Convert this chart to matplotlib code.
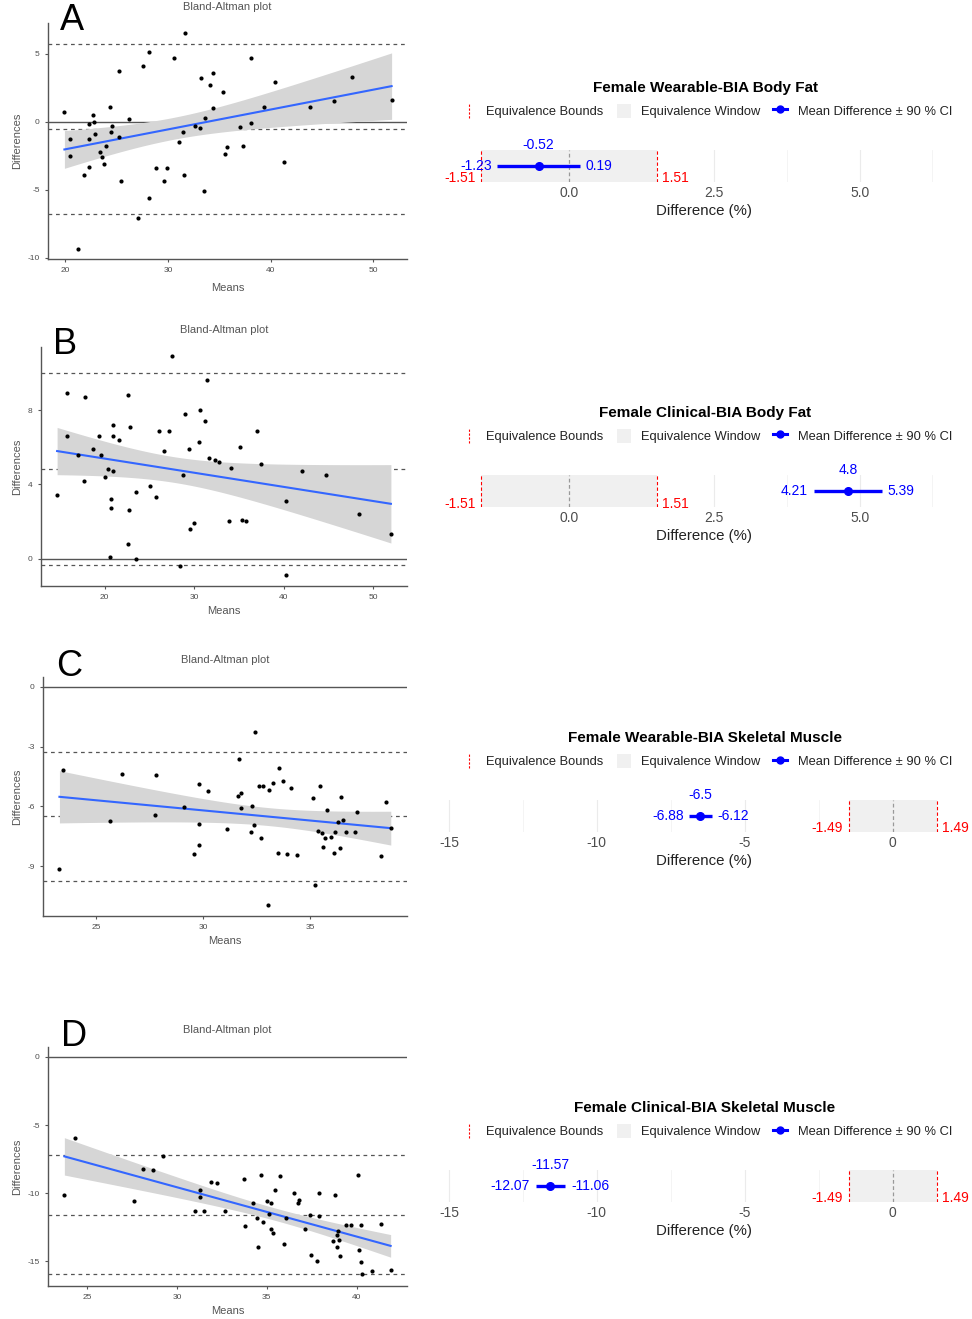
import numpy as np
import matplotlib.pyplot as plt
from matplotlib.lines import Line2D
from matplotlib.patches import Patch
from matplotlib.legend_handler import HandlerBase
from matplotlib.ticker import MultipleLocator, FormatStrFormatter

plt.rcParams['font.family'] = ['Liberation Sans', 'DejaVu Sans']
plt.rcParams['axes.unicode_minus'] = False

# ---- Bland-Altman data (means, differences) ----
a_means = [19.9, 20.4, 20.4, 21.2, 21.8, 22.3, 22.3, 22.3, 22.7, 22.8, 22.9, 23.4, 23.6, 23.8,
           24.0, 24.3, 24.4, 24.5, 25.2, 25.2, 25.4, 26.2, 27.1, 27.6, 28.1, 28.1, 28.8, 29.6,
           29.9, 30.6, 31.1, 31.5, 31.6, 31.7, 32.6, 33.1, 33.2, 33.5, 33.6, 34.1, 34.4, 34.4,
           35.4, 35.6, 35.8, 37.0, 37.3, 38.1, 38.1, 39.4, 40.4, 41.3, 43.8, 46.2, 47.9, 51.8]
a_diffs = [0.7, -1.3, -2.5, -9.4, -3.9, -0.2, -1.3, -3.3, 0.5, 0.0, -0.9, -2.2, -2.6, -3.1,
           -1.8, 1.1, -0.8, -0.3, 3.7, -1.1, -4.4, 0.2, -7.1, 4.1, 5.1, -5.6, -3.4, -4.4,
           -3.4, 4.7, -1.5, -0.8, -3.9, 6.5, -0.3, -0.5, 3.2, -5.1, 0.3, 2.7, 3.6, 1.0,
           2.2, -2.4, -1.9, -0.4, -1.8, 4.7, -0.1, 1.1, 2.9, -3.0, 1.1, 1.5, 3.3, 1.6]
a_loa = [-6.77, -0.52, 5.73]

b_means = [14.7, 15.8, 15.8, 17.0, 17.7, 17.8, 18.7, 19.4, 19.6, 20.0, 20.4, 20.6, 20.7, 20.7,
           20.9, 21.0, 21.0, 21.6, 22.6, 22.6, 22.7, 22.8, 23.5, 23.5, 25.1, 25.7, 26.1, 26.7,
           27.2, 27.5, 28.4, 28.8, 29.0, 29.4, 29.5, 30.0, 30.6, 30.7, 31.2, 31.4, 31.7, 32.3,
           32.8, 33.9, 34.1, 35.1, 35.4, 35.8, 37.0, 37.5, 40.3, 40.3, 42.1, 44.8, 48.4, 52.0]
b_diffs = [3.4, 8.9, 6.6, 5.6, 4.2, 8.7, 5.9, 6.6, 5.6, 4.4, 4.8, 0.1, 3.2, 2.7,
           4.7, 7.2, 6.6, 6.4, 0.8, 8.8, 2.6, 7.1, 3.6, 0.0, 3.9, 3.3, 6.9, 5.8,
           6.9, 10.9, -0.4, 4.5, 7.8, 5.9, 1.6, 1.9, 6.3, 8.0, 7.4, 9.6, 5.4, 5.3,
           5.2, 2.0, 4.9, 6.0, 2.1, 2.0, 6.9, 5.1, 3.1, -0.9, 4.7, 4.5, 2.4, 1.3]
b_loa = [-0.36, 4.8, 10.0]

c_means = [23.27, 23.42, 25.64, 26.18, 27.78, 27.75, 29.12, 29.55, 29.8, 29.81, 29.83, 30.23,
           31.13, 31.65, 31.7, 31.77, 31.77, 32.23, 32.27, 32.38, 32.44, 32.64, 32.7, 32.82,
           33.02, 33.1, 33.25, 33.53, 33.57, 33.75, 33.94, 34.11, 34.42, 35.17, 35.25, 35.39,
           35.48, 35.59, 35.62, 35.73, 35.78, 36.0, 36.15, 36.18, 36.33, 36.39, 36.45, 36.54,
           36.71, 37.13, 37.21, 38.32, 38.57, 38.79]
c_diffs = [-9.14, -4.16, -6.71, -4.38, -4.43, -6.44, -6.04, -8.39, -4.87, -6.86, -7.92, -5.22,
           -7.11, -5.45, -3.62, -5.34, -6.09, -7.3, -5.97, -6.93, -2.27, -4.97, -7.57, -4.97,
           -10.96, -5.17, -4.82, -8.36, -4.08, -4.73, -8.41, -5.07, -8.44, -5.59, -9.95, -7.25,
           -4.97, -7.32, -8.05, -7.6, -6.16, -7.52, -8.32, -7.3, -6.78, -8.07, -5.54, -6.69,
           -7.27, -7.27, -6.26, -8.51, -5.77, -7.08]
c_loa = [-9.75, -6.5, -3.25]

d_means = [23.74, 24.33, 27.59, 28.11, 28.69, 29.2, 31.0, 31.26, 31.28, 31.5, 31.91, 32.24,
           32.7, 33.76, 33.78, 34.26, 34.46, 34.5, 34.67, 34.78, 35.02, 35.13, 35.22, 35.26,
           35.37, 35.43, 35.72, 35.94, 36.07, 36.54, 36.72, 36.8, 37.15, 37.41, 37.44, 37.8,
           37.91, 37.93, 38.7, 38.78, 38.89, 38.93, 38.98, 39.0, 39.07, 39.39, 39.69, 40.06,
           40.13, 40.22, 40.22, 40.31, 40.83, 41.37, 41.89]
d_diffs = [-10.1, -5.97, -10.59, -8.24, -8.29, -7.26, -11.27, -10.29, -9.78, -11.27, -9.14, -9.27,
           -11.27, -8.92, -12.37, -10.71, -11.78, -13.94, -8.68, -12.13, -10.54, -11.52, -12.64, -10.71,
           -12.93, -9.78, -8.75, -13.74, -11.83, -10.0, -10.71, -10.46, -12.62, -11.56, -14.5, -14.96,
           -11.69, -9.98, -13.5, -10.15, -13.91, -13.03, -12.74, -13.45, -14.6, -12.35, -12.35, -8.68,
           -14.16, -12.35, -15.04, -15.89, -15.67, -12.27, -15.65]
d_loa = [-15.95, -11.57, -7.19]

# ---- equivalence test results ----
eq_titles = ['Female Wearable-BIA Body Fat', 'Female Clinical-BIA Body Fat',
             'Female Wearable-BIA Skeletal Muscle', 'Female Clinical-BIA Skeletal Muscle']
eq_mean = [-0.52, 4.8, -6.5, -11.57]
eq_lo = [-1.23, 4.21, -6.88, -12.07]
eq_hi = [0.19, 5.39, -6.12, -11.06]
eq_bound = [1.51, 1.51, 1.49, 1.49]
letters = ['A', 'B', 'C', 'D']

W, H = 972, 1319
fig = plt.figure(figsize=(W / 100, H / 100), dpi=100)


def box(l, t, r, b):
    return [l / W, 1 - b / H, (r - l) / W, (b - t) / H]


def ftext(x, y, s, **kw):
    fig.text(x / W, 1 - y / H, s, **kw)


class BoundHandle(HandlerBase):
    def create_artists(self, legend, orig_handle, xd, yd, w, h, fontsize, trans):
        x = -xd + w / 2
        return [Line2D([x, x], [-yd, -yd + h], color='red', lw=0.8,
                       ls=(0, (2, 1.5)), transform=trans)]


GRAY = '#555555'


def bland_altman(ax, means, diffs, loa, xlim, ylim, xticks, yticks):
    x = np.asarray(means)
    y = np.asarray(diffs)
    ax.axhline(0, color=GRAY, lw=1.0, zorder=1)
    for v in loa:
        ax.axhline(v, color=GRAY, lw=0.9, ls=(0, (3, 3)), zorder=1)
    # linear fit with 95% confidence band (like geom_smooth(method='lm'))
    n = len(x)
    b1, b0 = np.polyfit(x, y, 1)
    xs = np.linspace(x.min(), x.max(), 100)
    fit = b0 + b1 * xs
    s = np.sqrt(np.sum((y - (b0 + b1 * x)) ** 2) / (n - 2))
    se = s * np.sqrt(1 / n + (xs - x.mean()) ** 2 / np.sum((x - x.mean()) ** 2))
    t = 2.006
    ax.fill_between(xs, fit - t * se, fit + t * se, color='#d6d6d6', lw=0, zorder=2)
    ax.plot(xs, fit, color='#3366FF', lw=1.5, zorder=3)
    ax.scatter(x, y, s=9, color='black', lw=0, zorder=4)
    ax.set_xlim(xlim)
    ax.set_ylim(ylim)
    ax.set_xticks(xticks)
    ax.set_yticks(yticks)
    for sp in ['top', 'right']:
        ax.spines[sp].set_visible(False)
    for sp in ['left', 'bottom']:
        ax.spines[sp].set_color(GRAY)
        ax.spines[sp].set_linewidth(1.0)
    ax.tick_params(colors=GRAY, labelcolor='#4d4d4d', labelsize=6, length=2.5, width=0.8)


def equivalence(ax, m, lo, hi, bnd, xlim, major, minor, fmt):
    ax.axvspan(-bnd, bnd, color='#f0f0f0', lw=0, zorder=1)
    ax.axvline(-bnd, color='red', lw=0.8, ls=(0, (3, 2)), zorder=2)
    ax.axvline(bnd, color='red', lw=0.8, ls=(0, (3, 2)), zorder=2)
    ax.axvline(0, color='#999999', lw=0.9, ls=(0, (3, 2)), zorder=2)
    ax.plot([lo, hi], [0.5, 0.5], color='blue', lw=2.4, solid_capstyle='butt', zorder=3)
    ax.plot([m], [0.5], 'o', color='blue', ms=5.5, zorder=4)
    kw = dict(textcoords='offset points', va='center', fontsize=10)
    ax.annotate(f'{lo:g}', (lo, 0.5), xytext=(-4, 0), ha='right', color='blue', **kw)
    ax.annotate(f'{hi:g}', (hi, 0.5), xytext=(4, 0), ha='left', color='blue', **kw)
    ax.annotate(f'{m:g}', (m, 0.5), xytext=(0, 15), ha='center', color='blue', **kw)
    ax.annotate(f'{-bnd:g}', (-bnd, 0.5), xytext=(-4, -9), ha='right', color='red', **kw)
    ax.annotate(f'{bnd:g}', (bnd, 0.5), xytext=(4, -9), ha='left', color='red', **kw)
    ax.set_xlim(xlim)
    ax.set_ylim(0, 1)
    ax.xaxis.set_major_locator(MultipleLocator(major))
    ax.xaxis.set_minor_locator(MultipleLocator(minor))
    ax.xaxis.set_major_formatter(FormatStrFormatter(fmt))
    ax.set_yticks([])
    ax.grid(axis='x', which='major', color='#ebebeb', lw=0.8)
    ax.grid(axis='x', which='minor', color='#f3f3f3', lw=0.6)
    ax.set_axisbelow(True)
    for sp in ax.spines.values():
        sp.set_visible(False)
    ax.tick_params(axis='x', which='both', length=0, labelsize=10, labelcolor='#4d4d4d', pad=3)


# pixel layouts: left plot box, title y, letter pos, "Means" top, strip box, title y
ba_specs = [
    dict(means=a_means, diffs=a_diffs, loa=a_loa, box=(48, 23, 407, 259), ty=7, let=(72, 20),
         my=283, xlim=(18.3, 53.3), ylim=(-10.1, 7.25), xt=[20, 30, 40, 50], yt=[-10, -5, 0, 5]),
    dict(means=b_means, diffs=b_diffs, loa=b_loa, box=(41, 347, 407, 586), ty=330, let=(65, 345),
         my=606, xlim=(12.9, 53.8), ylim=(-1.48, 11.4), xt=[20, 30, 40, 50], yt=[0, 4, 8]),
    dict(means=c_means, diffs=c_diffs, loa=c_loa, box=(43, 677, 407, 916), ty=660, let=(69, 667),
         my=936, xlim=(22.5, 39.55), ylim=(-11.5, 0.5), xt=[25, 30, 35], yt=[-9, -6, -3, 0]),
    dict(means=d_means, diffs=d_diffs, loa=d_loa, box=(48, 1047, 407, 1286), ty=1030, let=(74, 1036),
         my=1306, xlim=(22.83, 42.8), ylim=(-16.8, 0.73), xt=[25, 30, 35, 40], yt=[-15, -10, -5, 0]),
]
eq_specs = [
    dict(box=(441, 150, 941, 182), ty=88, xlim=(-2.2, 6.4), major=2.5, minor=1.25, fmt='%.1f'),
    dict(box=(441, 475, 941, 507), ty=413, xlim=(-2.2, 6.4), major=2.5, minor=1.25, fmt='%.1f'),
    dict(box=(440, 800, 943, 832), ty=738, xlim=(-15.3, 1.7), major=5, minor=2.5, fmt='%g'),
    dict(box=(440, 1170, 943, 1202), ty=1108, xlim=(-15.3, 1.7), major=5, minor=2.5, fmt='%g'),
]

handles = [Line2D([], [], color='red'),
           Patch(facecolor='#f0f0f0', edgecolor='none'),
           Line2D([], [], color='blue', lw=2.2, marker='o', ms=5)]
labels = ['Equivalence Bounds', 'Equivalence Window', 'Mean Difference ± 90 % CI']

for i in range(4):
    sp = ba_specs[i]
    l, t, r, b = sp['box']
    ax = fig.add_axes(box(l, t, r, b))
    bland_altman(ax, sp['means'], sp['diffs'], sp['loa'], sp['xlim'], sp['ylim'], sp['xt'], sp['yt'])
    ftext((l + r) / 2, sp['ty'], 'Bland-Altman plot', ha='center', va='center', fontsize=8, color=GRAY)
    ftext(sp['let'][0], sp['let'][1], letters[i], ha='center', va='center', fontsize=26, color='black')
    ax.set_xlabel('Means', fontsize=8, color=GRAY)
    ax.xaxis.set_label_coords(((l + r) / 2) / W, 1 - sp['my'] / H, transform=fig.transFigure)
    ax.set_ylabel('Differences', fontsize=8, color=GRAY)
    ax.yaxis.set_label_coords(22 / W, 1 - ((t + b) / 2) / H, transform=fig.transFigure)

    es = eq_specs[i]
    l, t, r, b = es['box']
    ex = fig.add_axes(box(l, t, r, b))
    equivalence(ex, eq_mean[i], eq_lo[i], eq_hi[i], eq_bound[i], es['xlim'], es['major'], es['minor'], es['fmt'])
    ftext(705, es['ty'], eq_titles[i], ha='center', va='center', fontsize=11, fontweight='bold')
    fig.legend(handles, labels, loc='center', bbox_to_anchor=(707 / W, 1 - (es['ty'] + 23) / H),
               ncol=3, frameon=False, fontsize=9.3, handlelength=1.1, handleheight=1.3,
               handletextpad=0.8, columnspacing=1.0, handler_map={handles[0]: BoundHandle()},
               labelcolor='#222222')
    ex.set_xlabel('Difference (%)', fontsize=10.8, color='#222222')
    ex.xaxis.set_label_coords(704 / W, 1 - (es['ty'] + 116) / H, transform=fig.transFigure)

fig.savefig('out.png', dpi=100, facecolor='white')
